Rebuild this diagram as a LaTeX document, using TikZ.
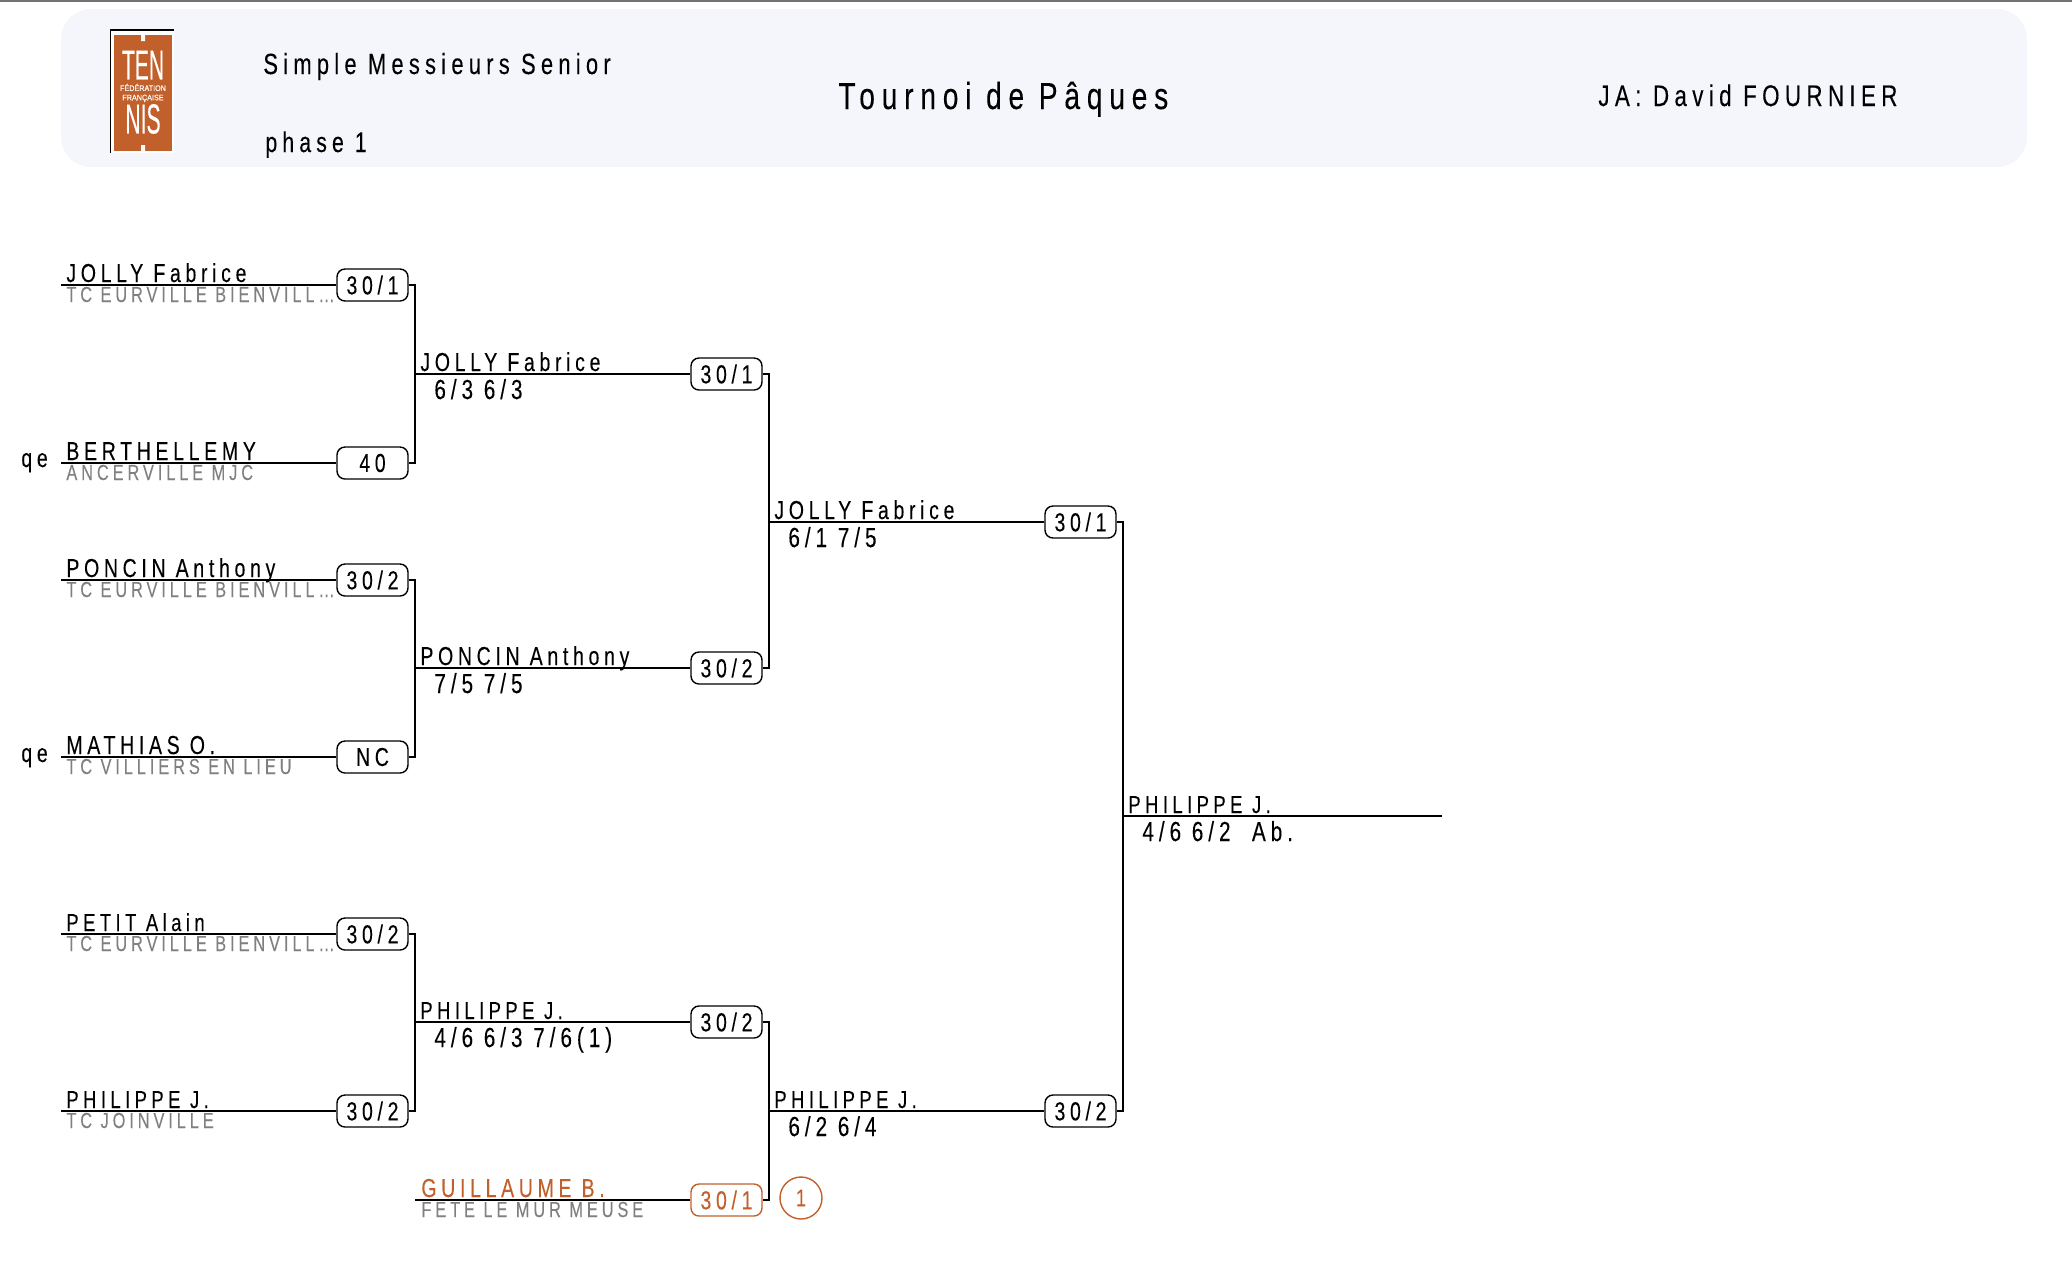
\documentclass[tikz,border=0pt]{standalone}
\usepackage{fontspec}
\setmainfont[FakeStretch=0.75,LetterSpace=18,FakeBold=0.12]{Liberation Sans}
\newfontfamily\logof[FakeStretch=0.9,FakeBold=0.25]{Liberation Sans}
\definecolor{fftorange}{HTML}{C1602A}
\definecolor{headbg}{HTML}{F4F6FB}
\definecolor{clubgrey}{HTML}{808080}
\tikzset{
  plname/.style={anchor=base west,inner sep=0pt,font=\fontsize{13}{13}\selectfont},
  plnarrow/.style={plname,font=\fontsize{12.3}{13}\selectfont},
  plclub/.style={anchor=base west,inner sep=0pt,font=\fontsize{10.9}{12}\selectfont,text=clubgrey},
  plscore/.style={anchor=base west,inner sep=0pt,font=\fontsize{13.8}{14}\selectfont},
  headtext/.style={anchor=base west,inner sep=0pt,font=\fontsize{14.6}{15}\selectfont},
  rank/.style={draw=black,fill=white,line width=0.7pt,rounded corners=4pt,minimum width=35.5pt,minimum height=16pt,inner sep=0pt,font=\fontsize{13}{13}\selectfont},
  rankor/.style={rank,draw=fftorange,text=fftorange},
  link/.style={line width=0.9pt,draw=black},
}
\begin{document}
\begin{tikzpicture}[x=0.5pt,y=-0.5pt]
\useasboundingbox (0,0) rectangle (2072,1266);
\fill[gray!90!black] (0,0) rectangle (2072,2);
% header
\fill[headbg,rounded corners=15pt] (61,9) rectangle (2027,167);
\node[headtext] (h1) at (263,74) {Simple Messieurs Senior};
\node[headtext,font=\fontsize{14.2}{15}\selectfont] (h2) at (265,152) {phase 1};
\node[headtext,font=\fontsize{18.8}{19}\selectfont] (h3) at (838,109) {Tournoi de Pâques};
\node[headtext,font=\fontsize{14.9}{15}\selectfont] (h4) at (1598,106) {JA: David FOURNIER};
% logo
\fill[white] (110,29) rectangle (174,153);
\draw[black,line width=0.8pt] (110.5,153) -- (110.5,30) -- (174,30);
\fill[fftorange] (114,35) rectangle (172,151);
\fill[white] (141,35) rectangle (145,41) (141,145) rectangle (145,151);
\node[inner sep=0pt,text=white,xscale=0.56,font=\logof\fontsize{21}{21}\selectfont] (l1) at (143,65) {TEN};
\node[inner sep=0pt,text=white,font=\logof\fontsize{4}{4.7}\selectfont,align=center] (l2) at (143,93) {FÉDÉRATION\\FRANÇAISE};
\node[inner sep=0pt,text=white,xscale=0.56,font=\logof\fontsize{21}{21}\selectfont] (l3) at (143,119) {NIS};
\begin{scope}[yshift=-0.5pt]
% column positions
\coordinate (v1) at (415,0);
\coordinate (v2) at (769,0);
\coordinate (v3) at (1123,0);
% rank badges
\node[rank] (a1) at (372.5,284) {30/1};
\node[rank] (a2) at (372.5,462) {40};
\node[rank] (a3) at (372.5,579) {30/2};
\node[rank] (a4) at (372.5,756) {NC};
\node[rank] (a5) at (372.5,933) {30/2};
\node[rank] (a6) at (372.5,1110) {30/2};
\node[rank] (b1) at (726.5,373) {30/1};
\node[rank] (b2) at (726.5,667) {30/2};
\node[rank] (b3) at (726.5,1021) {30/2};
\node[rankor] (b4) at (726.5,1199) {30/1};
\node[rank] (c1) at (1080.5,521) {30/1};
\node[rank] (c2) at (1080.5,1110) {30/2};
% line starts
\coordinate (s1) at (61,284);
\coordinate (s2) at (61,462);
\coordinate (s3) at (61,579);
\coordinate (s4) at (61,756);
\coordinate (s5) at (61,933);
\coordinate (s6) at (61,1110);
\coordinate (s7) at (415,1199);
\coordinate (fin) at (1442,815);
% entry lines
\foreach \s/\t in {s1/a1,s2/a2,s3/a3,s4/a4,s5/a5,s6/a6,s7/b4}
  \draw[link] (\s) -- (\t.west);
% first round brackets
\draw[link] (a1.east) -- (a1.east -| v1) -- (a2.east -| v1) -- (a2.east);
\draw[link] (a3.east) -- (a3.east -| v1) -- (a4.east -| v1) -- (a4.east);
\draw[link] (a5.east) -- (a5.east -| v1) -- (a6.east -| v1) -- (a6.east);
\draw[link] (b1.west -| v1) -- (b1.west);
\draw[link] (b2.west -| v1) -- (b2.west);
\draw[link] (b3.west -| v1) -- (b3.west);
% second round brackets
\draw[link] (b1.east) -- (b1.east -| v2) -- (b2.east -| v2) -- (b2.east);
\draw[link] (b3.east) -- (b3.east -| v2) -- (b4.east -| v2) -- (b4.east);
\draw[link] (c1.west -| v2) -- (c1.west);
\draw[link] (c2.west -| v2) -- (c2.west);
% final bracket
\draw[link] (c1.east) -- (c1.east -| v3) -- (c2.east -| v3) -- (c2.east);
\draw[link] (fin -| v3) -- (fin);
% ball
\node[circle,draw=fftorange,line width=0.7pt,minimum size=21pt,inner sep=0pt,text=fftorange,font=\fontsize{12}{12}\selectfont] (ball) at (801,1197) {1};
% players
\node[plname] (n1) at (66,281) {JOLLY Fabrice};
\node[plclub] (k1) at (66,301) {TC EURVILLE BIENVILL…};
\node[plname] (n2) at (66,459) {BERTHELLEMY};
\node[plclub] (k2) at (66,479) {ANCERVILLE MJC};
\node[plname] (n3) at (66,576) {PONCIN Anthony};
\node[plclub] (k3) at (66,596) {TC EURVILLE BIENVILL…};
\node[plname] (n4) at (66,753) {MATHIAS O.};
\node[plclub] (k4) at (66,773) {TC VILLIERS EN LIEU};
\node[plnarrow] (n5) at (66,930) {PETIT Alain};
\node[plclub] (k5) at (66,950) {TC EURVILLE BIENVILL…};
\node[plnarrow] (n6) at (66,1107) {PHILIPPE J.};
\node[plclub] (k6) at (66,1127) {TC JOINVILLE};
\node[plname,text=fftorange] (n7) at (421,1196) {GUILLAUME B.};
\node[plclub] (k7) at (421,1216) {FETE LE MUR MEUSE};
\node[plname] (q1) at (21,466) {qe};
\node[plname] (q2) at (21,761) {qe};
% winners
\node[plname] (w1) at (420,370) {JOLLY Fabrice};
\node[plscore] (r1) at (434,398) {6/3 6/3};
\node[plname] (w2) at (420,664) {PONCIN Anthony};
\node[plscore] (r2) at (434,692) {7/5 7/5};
\node[plnarrow] (w3) at (420,1018) {PHILIPPE J.};
\node[plscore] (r3) at (434,1046) {4/6 6/3 7/6(1)};
\node[plname] (w4) at (774,518) {JOLLY Fabrice};
\node[plscore] (r4) at (788,546) {6/1 7/5};
\node[plnarrow] (w5) at (774,1107) {PHILIPPE J.};
\node[plscore] (r5) at (788,1135) {6/2 6/4};
\node[plnarrow] (w6) at (1128,812) {PHILIPPE J.};
\node[plscore] (r6) at (1142,840) {4/6 6/2\ \ Ab.};
\end{scope}
\end{tikzpicture}
\end{document}
